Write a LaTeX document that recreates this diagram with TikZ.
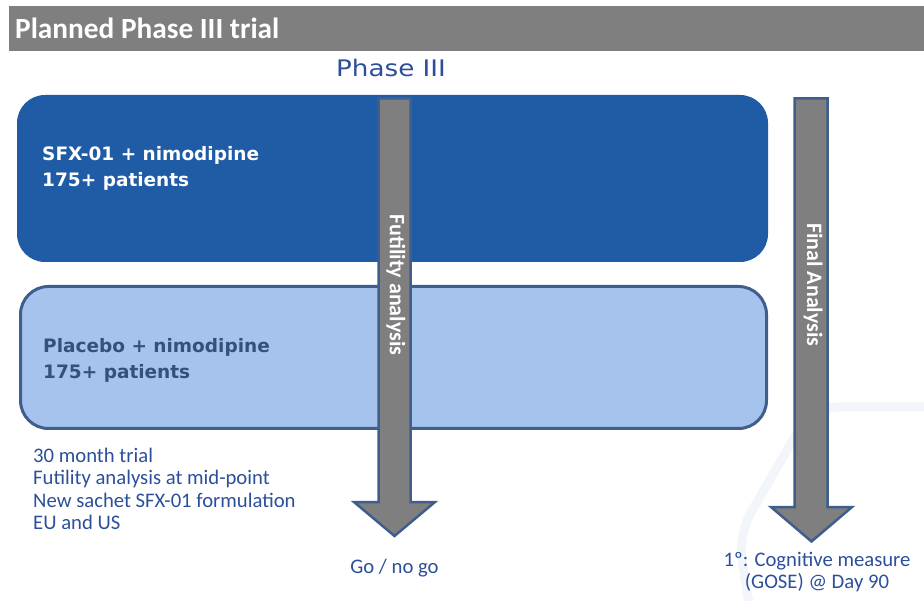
\documentclass[tikz,border=0pt]{standalone}
\usepackage{fontspec}
\setmainfont{Carlito}
\newfontfamily\armfont{DejaVu Sans}
\newfontfamily\phasefont[FakeStretch=1.15]{DejaVu Sans}
\definecolor{headerGrey}{RGB}{127,127,127}
\definecolor{sfxBlue}{RGB}{32,91,165}
\definecolor{placeboBlue}{RGB}{165,195,237}
\definecolor{edgeBlue}{RGB}{63,94,142}
\definecolor{noteBlue}{RGB}{44,79,155}
\definecolor{placeboText}{RGB}{52,80,125}
\definecolor{faintBlue}{RGB}{242,245,250}
\newcommand{\sfxColor}{sfxBlue}
\newcommand{\placeboColor}{placeboBlue}

\begin{document}
\begin{tikzpicture}[
            x=1pt, y=-1pt,
            every node/.append style={inner sep=0pt},
            arm box/.style={rounded corners=28pt},
            arm text/.style={font=\armfont\bfseries\fontsize{18.5}{26.5}\selectfont, align=left, anchor=west},
            arrow body/.style={draw=edgeBlue, line width=2.5pt, fill=headerGrey, line join=miter},
            arrow label/.style={font=\bfseries\fontsize{22}{24}\selectfont, text=white, rotate=-90},
            note/.style={font=\fontsize{20.7}{22.3}\selectfont, text=noteBlue}
        ]
        \useasboundingbox (0,0) rectangle (924,601);
        \draw[faintBlue, line width=9pt, rounded corners=25pt] (930,407) -- (812,407) -- (738,535) -- (750,610);

        \fill[headerGrey] (9,6) rectangle (924,51);
        \node[anchor=base west, text=white, font=\bfseries\fontsize{29.3}{32}\selectfont] (title) at (15,39) {Planned Phase III trial};
        \node[anchor=base, text=noteBlue, font=\phasefont\fontsize{22.8}{24}\selectfont] (phase) at (391,77) {Phase III};

        \node[arm box, fill=\sfxColor, minimum width=751pt, minimum height=167pt] (sfx) at (392.5,178.5) {};
        \node[arm box, fill=\placeboColor, draw=edgeBlue, line width=3pt, minimum width=746pt, minimum height=142pt] (placebo) at (393.5,357.5) {};
        \node[arm text, text=white] (sfxtext) at (42,168.5) {SFX-01 + nimodipine\\175+ patients};
        \node[arm text, text=placeboText] (placebotext) at (43,360.5) {Placebo + nimodipine\\175+ patients};

        \draw[arrow body] (378.5,98.5) -- (410.5,98.5) -- (410.5,502) -- (435,502) -- (394.5,536) -- (354,502) -- (378.5,502) -- cycle;
        \draw[arrow body] (794.5,98.5) -- (827.5,98.5) -- (827.5,507) -- (852,507) -- (811.5,541.5) -- (771,507) -- (794.5,507) -- cycle;
        \node[arrow label] (futility) at (396,285) {Futility analysis};
        \node[arrow label] (final) at (813,285) {Final Analysis};

        \node[note, align=left, anchor=west] (facts) at (33,489) {30 month trial\\Futility analysis at mid-point\\New sachet SFX-01 formulation\\EU and US};
        \node[note, anchor=base] (gonogo) at (394.5,573) {Go / no go};
        \node[note, align=center, anchor=north] (endpoint) at (817,552) {1º: Cognitive measure\\(GOSE) @ Day 90};
    \end{tikzpicture}
\end{document}
